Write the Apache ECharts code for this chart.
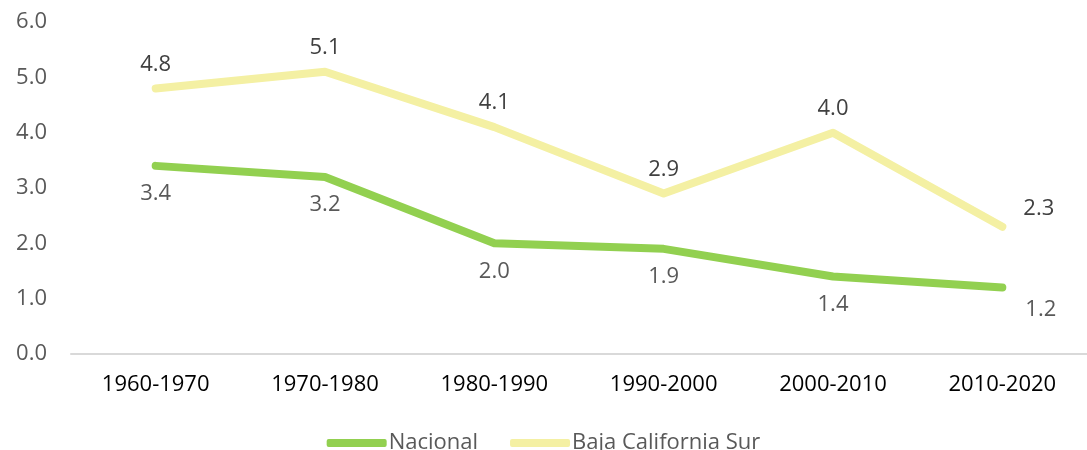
<!DOCTYPE html>
<html>
<head>
<meta charset="utf-8">
<script src="https://cdn.jsdelivr.net/npm/echarts@6/dist/echarts.min.js"></script>
<style>
  html, body { margin: 0; padding: 0; background: #fff; }
  #chart { width: 1087px; height: 450px; }
</style>
</head>
<body>
<div id="chart"></div>
<script>
// datos
const periodos = ['1960-1970', '1970-1980', '1980-1990', '1990-2000', '2000-2010', '2010-2020']
const nacional = [3.4, 3.2, 2.0, 1.9, 1.4, 1.2]
const bcs = [4.8, 5.1, 4.1, 2.9, 4.0, 2.3]

const fuente = '"Open Sans", Lato, sans-serif'

let chart = echarts.init(document.getElementById('chart'))

// ultimo punto: etiqueta a la derecha
const lastIdx = periodos.length - 1
const dataNacional = nacional.map((v, i) => i === lastIdx
  ? { value: v, label: { position: 'right', offset: [6, 22] } }
  : v)
const dataBcs = bcs.map((v, i) => i === lastIdx
  ? { value: v, label: { position: 'right', offset: [8, -18] } }
  : v)

let options = {
  animation: false,
  textStyle: { fontFamily: fuente },
  grid: { left: 71, right: -14, top: 22, bottom: 96 },
  legend: {
    bottom: -9,
    left: 'center',
    icon: 'roundRect',
    itemWidth: 60,
    itemHeight: 8,
    itemGap: 32,
    textStyle: { fontSize: 22, color: '#595959', fontFamily: fuente, padding: [0, 0, 0, -3] },
    data: ['Nacional', 'Baja California Sur']
  },
  xAxis: {
    type: 'category',
    boundaryGap: true,
    data: periodos,
    axisLine: { show: true, lineStyle: { color: '#d9d9d9', width: 2 } },
    axisTick: { show: false },
    axisLabel: { color: '#000', fontSize: 22, margin: 20, fontFamily: fuente, interval: 0 }
  },
  yAxis: {
    type: 'value',
    min: 0,
    max: 6,
    interval: 1,
    axisLine: { show: false },
    axisTick: { show: false },
    splitLine: { show: false },
    axisLabel: {
      color: '#595959',
      fontSize: 22,
      margin: 24,
      fontFamily: fuente,
      formatter: (v) => v.toFixed(1)
    }
  },
  series: [
    {
      name: 'Nacional',
      type: 'line',
      symbol: 'circle',
      symbolSize: 0,
      showSymbol: true,
      data: dataNacional,
      lineStyle: { color: '#92d050', width: 8, cap: 'round', join: 'round' },
      itemStyle: { color: '#92d050' },
      label: {
        show: true,
        position: 'bottom',
        distance: 17,
        color: '#595959',
        fontSize: 22,
        fontFamily: fuente,
        formatter: (p) => p.value.toFixed(1)
      }
    },
    {
      name: 'Baja California Sur',
      type: 'line',
      symbol: 'circle',
      symbolSize: 0,
      showSymbol: true,
      data: dataBcs,
      lineStyle: { color: '#f4f0a3', width: 8, cap: 'round', join: 'round' },
      itemStyle: { color: '#f4f0a3' },
      label: {
        show: true,
        position: 'top',
        distance: 13,
        color: '#404040',
        fontSize: 22,
        fontFamily: fuente,
        formatter: (p) => p.value.toFixed(1)
      }
    }
  ]
}
chart.setOption(options)
</script>
</body>
</html>
